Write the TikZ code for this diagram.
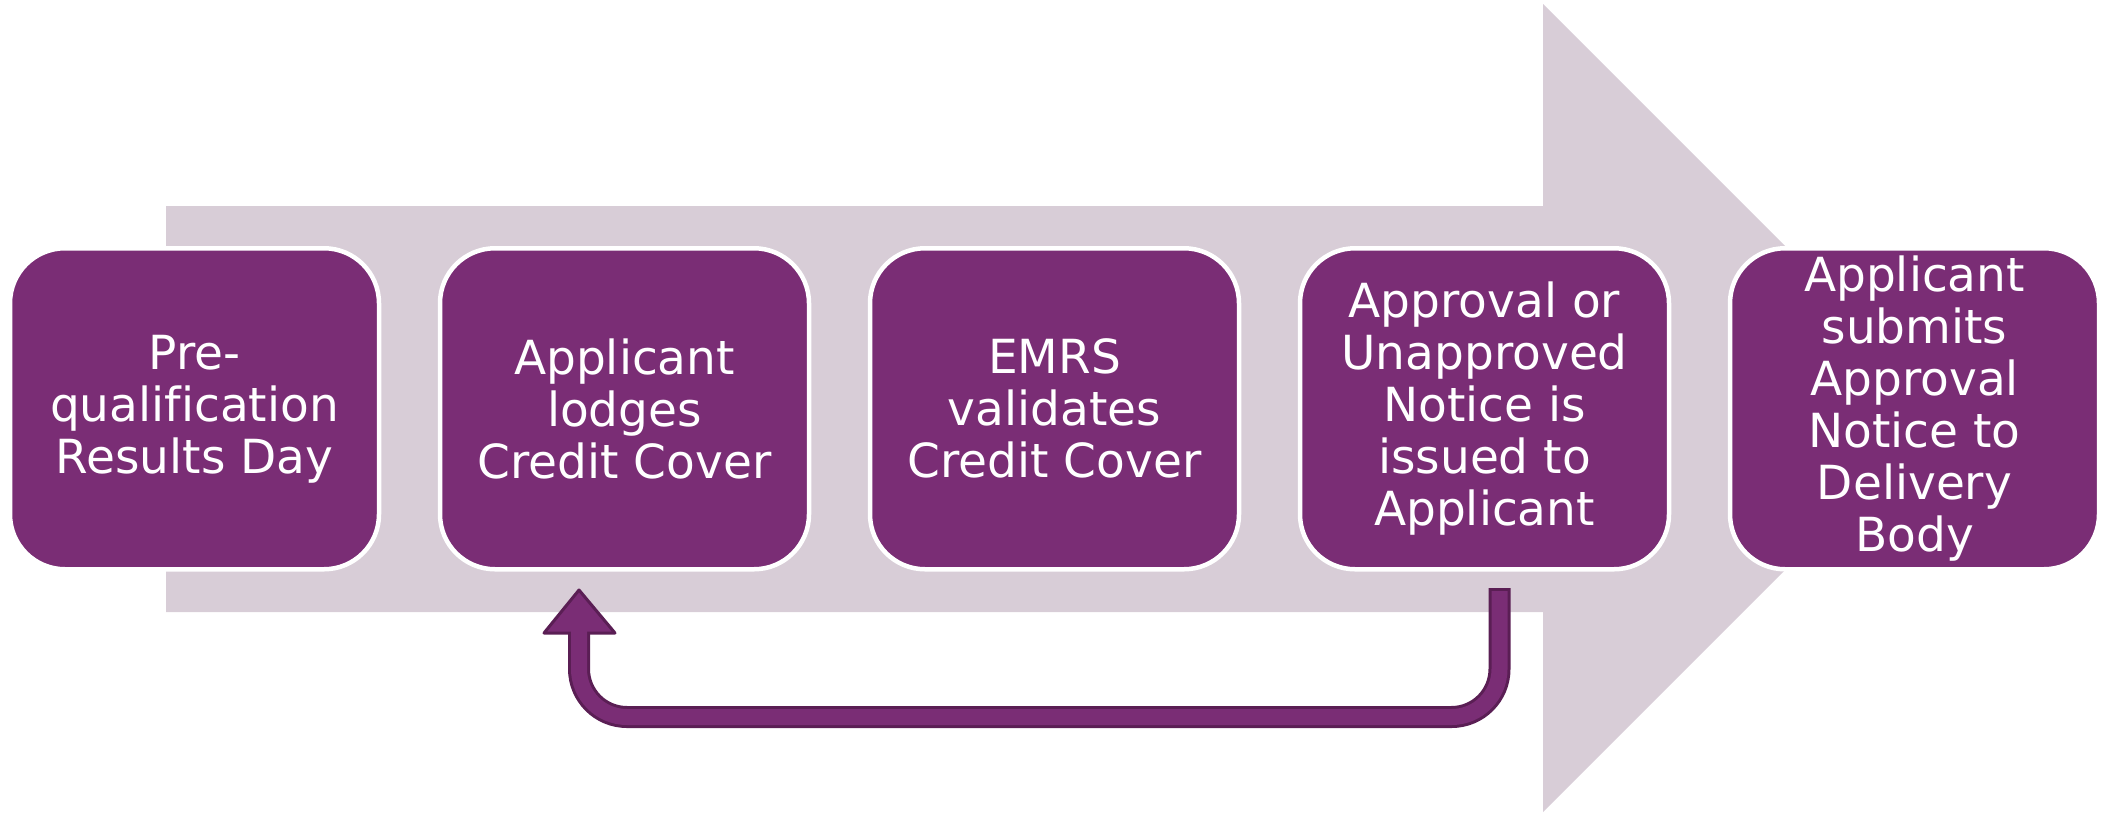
\documentclass[tikz,border=0pt]{standalone}
\usepackage{fontspec}
\setmainfont[Ligatures={NoCommon}]{DejaVu Sans}
\definecolor{boxpurple}{RGB}{122,45,117}
\definecolor{bandgrey}{RGB}{216,205,215}
\definecolor{arrdark}{RGB}{90,30,84}
\begin{document}
\begin{tikzpicture}[x=1pt,y=-1pt,
  stepbox/.style={draw=white, line width=4.5pt, fill=boxpurple, rounded corners=55pt,
    minimum width=369pt, minimum height=321pt, text=white, align=center,
    font=\fontsize{47}{52}\selectfont, inner sep=0pt},
  fbouter/.style={draw=arrdark, line width=22pt, rounded corners=48pt},
  fbinner/.style={draw=boxpurple, line width=16pt, rounded corners=48pt},
  fbhead/.style={fill=boxpurple, draw=arrdark, line width=3pt, line join=round}
]
\useasboundingbox (0,0) rectangle (2112,812);
% big background arrow
\fill[bandgrey] (166,206) -- (1543,206) -- (1543,4) -- (1947,408) -- (1543,812)
  -- (1543,612) -- (166,612) -- cycle;
% feedback arrow
\coordinate (fbS) at (1499.5,588);
\coordinate (fbSi) at (1499.5,591);
\coordinate (fbE) at (579,633);
\coordinate (fbEi) at (579,626);
\coordinate (fbT) at (579,590);
\draw[fbouter] (fbS) -- ++(0,129) -| (fbE);
\draw[fbhead] (544,633) -- (fbT) -- (615,633) -- cycle;
\draw[fbinner] (fbSi) -- ++(0,126) -| (fbEi);
% steps
\node[stepbox] (b1) at (194.5,408.75) {Pre-\\qualification\\Results Day};
\node[stepbox] (b2) at (624.5,408.75) {Applicant\\lodges\\Credit Cover};
\node[stepbox] (b3) at (1054.5,408.75) {EMRS\\validates\\Credit Cover};
\node[stepbox] (b4) at (1484.5,408.75) {Approval or\\Unapproved\\Notice is\\issued to\\Applicant};
\node[stepbox] (b5) at (1914.5,408.75) {Applicant\\submits\\Approval\\Notice to\\Delivery\\Body};
\end{tikzpicture}
\end{document}
